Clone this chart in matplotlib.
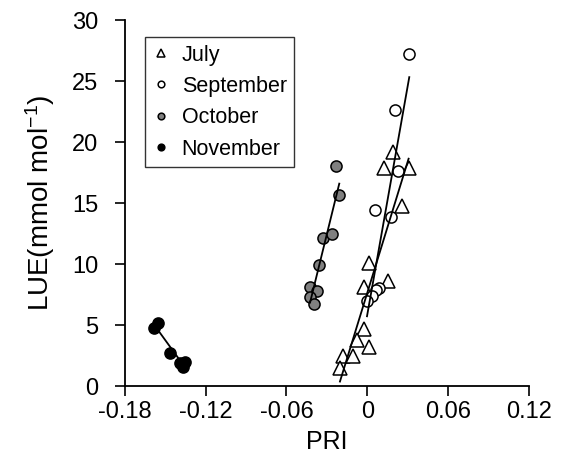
import numpy as np
import matplotlib
matplotlib.use('Agg')
import matplotlib.pyplot as plt

plt.rcParams['font.family'] = ['Liberation Sans', 'DejaVu Sans']
plt.rcParams['mathtext.fontset'] = 'custom'
plt.rcParams['mathtext.rm'] = 'Liberation Sans'
plt.rcParams['mathtext.it'] = 'Liberation Sans'

#%% data
jul_pri = [0.0188, 0.0126, 0.0307, 0.0255, 0.0010, -0.0027, 0.0151,
           -0.0027, -0.0076, 0.0010, -0.0178, -0.0109, -0.0203]
jul_lue = [19.2, 17.9, 17.9, 14.8, 10.06, 8.14, 8.63,
           4.65, 3.77, 3.17, 2.46, 2.46, 1.5]

sep_pri = [0.0312, 0.0208, 0.0232, 0.0057, 0.0180, 0.0089, 0.0065, 0.0035, -0.0002]
sep_lue = [27.2, 22.6, 17.65, 14.4, 13.9, 8.06, 7.87, 7.38, 6.99]

oct_pri = [-0.0232, -0.0208, -0.0332, -0.0262, -0.0362, -0.0425, -0.0373, -0.0425, -0.0394]
oct_lue = [18.06, 15.66, 12.1, 12.43, 9.92, 8.09, 7.79, 7.32, 6.72]

nov_pri = [-0.1582, -0.1552, -0.1463, -0.1391, -0.1351, -0.1366]
nov_lue = [4.75, 5.16, 2.70, 1.89, 1.97, 1.56]

xticks = [-0.18, -0.12, -0.06, 0, 0.06, 0.12]
xticklabels = ['-0.18', '-0.12', '-0.06', '0', '0.06', '0.12']
yticks = [0, 5, 10, 15, 20, 25, 30]

#%% plot
fig = plt.figure(figsize=(5.68, 4.59), dpi=100)
ax = fig.add_axes([0.220, 0.159, 0.711, 0.797])

groups = [
    (jul_pri, jul_lue, '^', 'white', 'July', 9.5),
    (sep_pri, sep_lue, 'o', 'white', 'September', 8),
    (oct_pri, oct_lue, 'o', '#808080', 'October', 8),
    (nov_pri, nov_lue, 'o', 'black', 'November', 8),
]

for x, y, mk, fc, lab, ms in groups:
    ax.plot(x, y, linestyle='none', marker=mk, markersize=ms,
            markerfacecolor=fc, markeredgecolor='black', markeredgewidth=1.1,
            label=lab, zorder=3)
    # least squares fit over the data range
    p = np.polyfit(x, y, 1)
    xf = np.array([min(x), max(x)])
    ax.plot(xf, np.polyval(p, xf), color='black', lw=1.3, zorder=4)

ax.set_xlim(-0.18, 0.12)
ax.set_ylim(0, 30)
ax.set_xticks(xticks)
ax.set_xticklabels(xticklabels)
ax.set_yticks(yticks)
ax.spines['top'].set_visible(False)
ax.spines['right'].set_visible(False)
ax.spines['left'].set_linewidth(1.3)
ax.spines['bottom'].set_linewidth(1.3)
ax.tick_params(direction='out', length=7, width=1.2, labelsize=17)
ax.tick_params(axis='x', pad=4)
ax.tick_params(axis='y', pad=12)

ax.set_xlabel('PRI', fontsize=18, labelpad=5)
ax.set_ylabel('LUE(mmol mol$^{-1}$)', fontsize=20, labelpad=11)

leg = ax.legend(loc='upper left', bbox_to_anchor=(0.05, 0.954), fontsize=15.5,
                markerscale=0.6, handlelength=0.8, handletextpad=0.55,
                labelspacing=0.48, borderpad=0.35, fancybox=False,
                frameon=True, borderaxespad=0)
leg.get_frame().set_edgecolor('black')
leg.get_frame().set_linewidth(1.0)

fig.savefig('out.png', dpi=100)
